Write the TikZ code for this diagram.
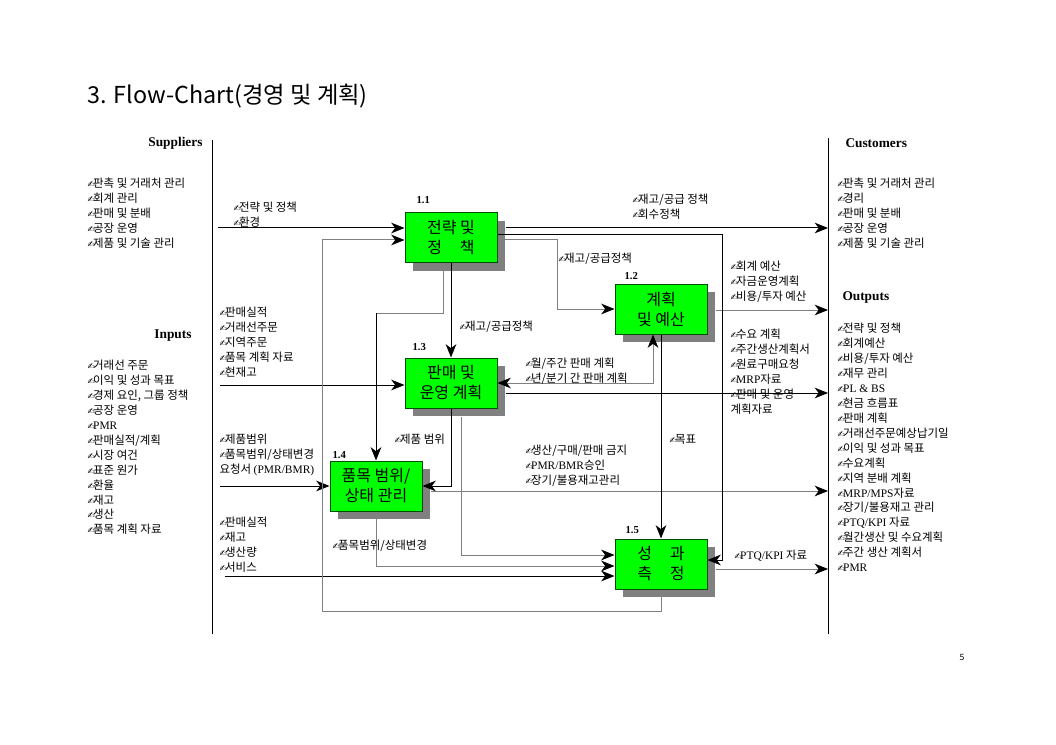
\documentclass[tikz,border=0pt]{standalone}
\usepackage{fontspec}
\setmainfont{Liberation Serif}
\newfontfamily\kr{Noto Sans CJK KR}
\newfontfamily\penfont{DejaVu Sans}
\usetikzlibrary{arrows.meta,calc,shadows}
\newcommand\penmark{{\penfont\fontsize{6.5}{6.5}\selectfont ✍}\kern-1.2pt}
\newcommand\lat{\rmfamily}
\tikzset{
  proc/.style={draw=green!30!black, fill=green, minimum width=69pt, minimum height=37.5pt,
    align=center, inner sep=0pt, font=\kr\fontsize{12}{15}\selectfont,
    drop shadow={shadow xshift=6pt, shadow yshift=-6pt, fill=black!50, opacity=1}},
  num/.style={font=\bfseries\fontsize{8}{9}\selectfont, inner sep=0pt, anchor=west},
  head/.style={font=\bfseries\fontsize{10}{12}\selectfont, inner sep=0pt},
  lbl/.style={font=\kr\fontsize{8.6}{11.2}\selectfont, align=left, inner sep=0pt, anchor=west},
  garr/.style={->, draw=black!50},
  gline/.style={draw=black!50}
}
\begin{document}
\begin{tikzpicture}[x=0.75pt, y=-0.75pt, line width=0.75pt,
  >={Stealth[length=10pt, width=8pt, inset=3pt, color=black]}]
\useasboundingbox (0,0) rectangle (1056,745);

% 제목
\node[font=\kr\fontsize{17.5}{20}\selectfont, anchor=west, inner sep=0pt] (title) at (87,96) {3. Flow-Chart(경영 및 계획)};
\node[font=\kr\fontsize{6.5}{8}\selectfont, inner sep=0pt] (page) at (962,657) {5};

% 경계선
\draw (212,140) -- (212,634);
\draw (828,138) -- (828,634);

% 머리글
\node[head, anchor=east] (supp) at (203,143) {Suppliers};
\node[head, anchor=east] (inps) at (192,336) {Inputs};
\node[head, anchor=west] (cust) at (845,143) {Customers};
\node[head, anchor=west] (outs) at (842,298) {Outputs};

% 좌우 목록
\node[lbl] (sup) at (87,213.5) {\penmark{}판촉 및 거래처 관리\\\penmark{}회계 관리\\\penmark{}판매 및 분배\\\penmark{}공장 운영\\\penmark{}제품 및 기술 관리};
\node[lbl] (inp) at (87,447.5) {\penmark{}거래선 주문\\\penmark{}이익 및 성과 목표\\\penmark{}경제 요인, 그룹 정책\\\penmark{}공장 운영\\\penmark{}{\lat PMR}\\\penmark{}판매실적/계획\\\penmark{}시장 여건\\\penmark{}표준 원가\\\penmark{}환율\\\penmark{}재고\\\penmark{}생산\\\penmark{}품목 계획 자료};
\node[lbl] (cus) at (837,213.5) {\penmark{}판촉 및 거래처 관리\\\penmark{}경리\\\penmark{}판매 및 분배\\\penmark{}공장 운영\\\penmark{}제품 및 기술 관리};
\node[lbl] (outp) at (837,447.5) {\penmark{}전략 및 정책\\\penmark{}회계예산\\\penmark{}비용/투자 예산\\\penmark{}재무 관리\\\penmark{}{\lat PL \& BS}\\\penmark{}현금 흐름표\\\penmark{}판매 계획\\\penmark{}거래선주문예상납기일\\\penmark{}이익 및 성과 목표\\\penmark{}수요계획\\\penmark{}지역 분배 계획\\\penmark{}{\lat MRP/MPS}자료\\\penmark{}장기/불용재고 관리\\\penmark{}{\lat PTQ/KPI} 자료\\\penmark{}월간생산 및 수요계획\\\penmark{}주간 생산 계획서\\\penmark{}{\lat PMR}};

% 공정 박스
\node[proc] (b11) at (451,238) {전략 및\\정\hspace{1.1em}책};
\node[proc] (b12) at (661,309) {계획\\및 예산};
\node[proc] (b13) at (451,383) {판매 및\\운영 계획};
\node[proc] (b14) at (376,486) {품목 범위/\\상태 관리};
\node[proc] (b15) at (661,564) {성\hspace{1.1em}과\\측\hspace{1.1em}정};
\node[num] (n11) at (416,200) {1.1};
\node[num] (n12) at (624,276) {1.2};
\node[num] (n13) at (412,347) {1.3};
\node[num] (n14) at (332,455) {1.4};
\node[num] (n15) at (625,530) {1.5};

% 입력
\coordinate (in11) at (218,228);
\coordinate (in13) at (220,385);
\coordinate (in14) at (220,486);
\coordinate (in15) at (225,576);
\draw[->] (in11) -- (in11 -| b11.west);
\draw[->] (in13) -- (in13 -| b13.west);
\draw[->] (in14) -- (b14.west);
\draw[->] (in15) -- (in15 -| b15.west);

% 출력
\coordinate (out11) at (828,228);
\coordinate (out12) at (828,310);
\coordinate (out13) at (828,393);
\coordinate (out14) at (828,491);
\coordinate (out15) at (828,569);
\draw[->] ($(out11 -| b11.east)+(8,0)$) -- (out11);
\draw[garr] ($(out12 -| b12.east)+(8,0)$) -- (out12);
\draw[->] ($(out13 -| b13.east)+(8,0)$) -- (out13);
\draw[garr] ($(out14 -| b14.east)+(8,0)$) -- (out14);
\draw[garr] ($(out15 -| b15.east)+(8,0)$) -- (out15);

% 내부 흐름
\coordinate (k14) at (376,313);
\coordinate (k12) at (557,309);
\coordinate (k15) at (722,560);
\coordinate (fb) at (322,611);
\draw[->] (b11.south) -- (b13.north);
\draw[gline] ($(b11.south)+(-8,0)$) |- (k14);
\draw[->] (k14) -- (b14.north);
\draw[garr] ($(b11.east)+(0,2)$) -| (k12) -- (b12.west);
\draw[->] ($(b11.east)+(0,-3)$) -| (k15) -- (k15 -| b15.east);
\draw[->] (b12.south) -- (b15.north);
\draw[garr, <->] (b13.east) -| ($(b12.south)+(-8,0)$);
\draw[->] (b13.south) |- (b14.east);
\draw[garr] ($(b13.south)+(10,8)$) |- ($(b15.west)+(0,-9)$);
\draw[garr] (b14.south) |- ($(b15.west)+(0,2)$);
\draw[garr] (b15.south) |- (fb) |- ($(b11.west)+(0,2)$);

% 흐름 라벨
\node[lbl] (l1) at (233,214.5) {\penmark{}전략 및 정책\\\penmark{}환경};
\node[lbl] (l2) at (632,207) {\penmark{}재고/공급 정책\\\penmark{}회수정책};
\node[lbl] (l3) at (558,259) {\penmark{}재고/공급정책};
\node[lbl] (l4) at (459,327) {\penmark{}재고/공급정책};
\node[lbl] (l5) at (730,282) {\penmark{}회계 예산\\\penmark{}자금운영계획\\\penmark{}비용/투자 예산};
\node[lbl] (l6) at (219,342) {\penmark{}판매실적\\\penmark{}거래선주문\\\penmark{}지역주문\\\penmark{}품목 계획 자료\\\penmark{}현재고};
\node[lbl] (l7) at (525,371) {\penmark{}월/주간 판매 계획\\\penmark{}년/분기 간 판매 계획};
\node[lbl] (l8) at (730,371.5) {\penmark{}수요 계획\\\penmark{}주간생산계획서\\\penmark{}원료구매요청\\\penmark{}{\lat MRP}자료\\\penmark{}판매 및 운영\\계획자료};
\node[lbl] (l9) at (394,439) {\penmark{}제품 범위};
\node[lbl] (l10) at (219,455) {\penmark{}제품범위\\\penmark{}품목범위/상태변경\\요청서 {\lat (PMR/BMR)}};
\node[lbl] (l11) at (525,466) {\penmark{}생산/구매/판매 금지\\\penmark{}{\lat PMR/BMR}승인\\\penmark{}장기/불용재고관리};
\node[lbl] (l12) at (669,439) {\penmark{}목표};
\node[lbl] (l13) at (219,545) {\penmark{}판매실적\\\penmark{}재고\\\penmark{}생산량\\\penmark{}서비스};
\node[lbl] (l14) at (332,546) {\penmark{}품목범위/상태변경};
\node[lbl] (l15) at (734,556) {\penmark{}{\lat PTQ/KPI} 자료};
\end{tikzpicture}
\end{document}
